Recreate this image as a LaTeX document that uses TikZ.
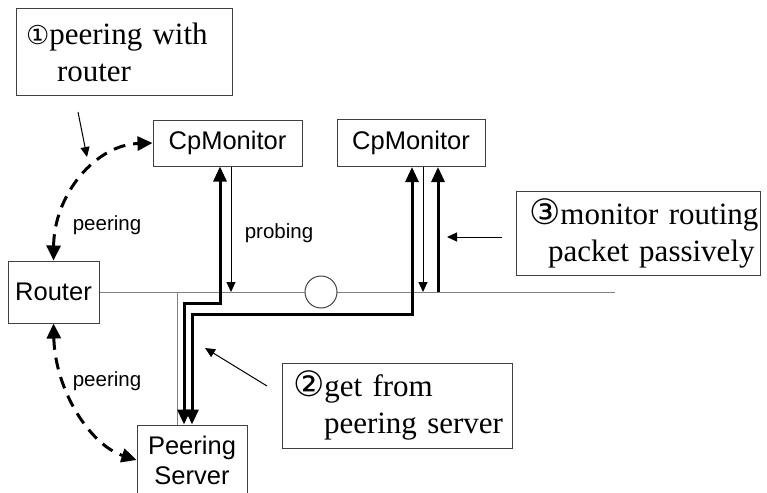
\documentclass[tikz,border=0pt]{standalone}
\usepackage{fontspec}
\setmainfont{Liberation Serif}
\setsansfont{Liberation Sans}
\newfontfamily\circfont{DejaVu Sans}
\usetikzlibrary{arrows.meta}
\definecolor{wire}{HTML}{808080}
\definecolor{edge}{HTML}{404040}

\begin{document}
\begin{tikzpicture}[x=1pt,y=-1pt,
  block/.style={draw=edge,line width=1pt,fill=white,align=center,inner sep=0pt,
    font=\sffamily\fontsize{25.5}{30}\selectfont},
  note/.style={draw=edge,line width=1pt,align=left,inner xsep=0pt,inner ysep=0pt,
    font=\fontsize{31}{37}\selectfont},
  tag/.style={font=\sffamily\fontsize{20.5}{24}\selectfont},
  bus/.style={draw=wire,line width=1pt},
  link/.style={-{Triangle[length=10pt,width=9pt]},line width=1pt},
  fat/.style={{Triangle[length=15pt,width=13pt]}-{Triangle[length=15pt,width=13pt]},line width=3pt},
  fatup/.style={-{Triangle[length=15pt,width=13pt]},line width=3pt},
  peer/.style={{Triangle[length=15pt,width=14pt]}-{Triangle[length=15pt,width=14pt]},
    line width=3pt,dash pattern=on 12pt off 8pt}
]
\useasboundingbox (0,0) rectangle (767,492);

% callouts
\node[note,minimum height=87pt,text width=216pt] (n1) at (124,52.5)
  {\hspace*{10pt}{\circfont\fontsize{26}{30}\selectfont ①}peering with\\\hspace*{41pt}router};
\node[note,minimum height=85pt,text width=230pt] (n2) at (397,405.5)
  {\hspace*{11pt}{\circfont\fontsize{35}{37}\selectfont ②}get from\\\hspace*{42pt}peering server};
\node[note,minimum height=84pt,text width=244pt] (n3) at (638,233)
  {\hspace*{13pt}{\circfont\fontsize{35}{37}\selectfont ③}monitor routing\\\hspace*{32pt}packet passively};

% network
\coordinate (busend) at (615,292);
\coordinate (tee) at (177,292);
\coordinate (p1) at (184,303);
\coordinate (p2) at (192,314);
\node[block,minimum width=149pt,minimum height=46pt] (mon1) at (227.5,143) {CpMonitor};
\node[block,minimum width=148pt,minimum height=47pt] (mon2) at (411,143) {CpMonitor};
\node[block,minimum width=91pt,minimum height=62pt] (router) at (53.5,292) {Router};
\node[block,minimum width=110pt,minimum height=70pt] (server) at (192,460) {Peering\\Server};
\draw[bus] (router.east) -- (busend);
\draw[bus] (tee) -- (tee |- server.north);
\node[circle,draw=edge,line width=1pt,fill=white,minimum size=32pt,inner sep=0pt] (tap) at (321,292) {};

% data paths
\draw[fat] ([xshift=-7.5pt]mon1.south) |- (p1) -- (p1 |- server.north);
\draw[fat] ([xshift=1pt]mon2.south) |- (p2) -- (p2 |- server.north);
\coordinate (pr1) at ([xshift=3.5pt]mon1.south);
\coordinate (pr2) at ([xshift=12pt]mon2.south);
\coordinate (sn2) at ([xshift=27pt]mon2.south);
\draw[link] (pr1) -- (pr1 |- busend);
\draw[link] (pr2) -- (pr2 |- busend);
\draw[fatup] (sn2 |- busend) -- (sn2);
\node[tag] (lprobe) at (279,233) {probing};

% peering sessions
\draw[peer] (router.north) .. controls (54,195) and (95,145) .. (mon1.west);
\draw[peer] (router.south) .. controls (55,390) and (90,445) .. (server.west);
\node[tag] (lpeer1) at (107,225) {peering};
\node[tag] (lpeer2) at (107,381) {peering};

% pointers
\coordinate (a1) at (78,112);
\coordinate (a1e) at (87,157);
\coordinate (a2) at (267,386);
\coordinate (a2e) at (205,348);
\coordinate (a3) at (502,237);
\coordinate (a3e) at (447,237);
\draw[link] (a1) -- (a1e);
\draw[link] (a2) -- (a2e);
\draw[link] (a3) -- (a3e);
\end{tikzpicture}
\end{document}
